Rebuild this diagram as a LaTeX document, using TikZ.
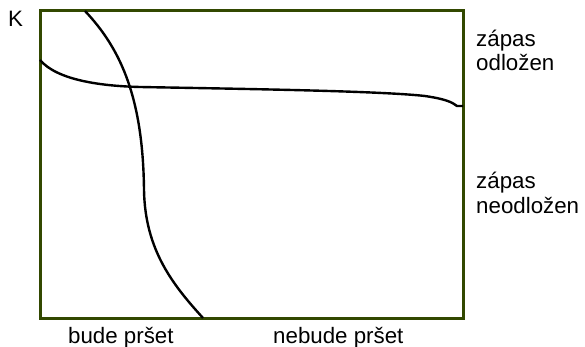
\documentclass[tikz,border=0pt]{standalone}
\usepackage{fontspec}
\setmainfont{Liberation Sans}
\definecolor{boxgreen}{RGB}{50,72,0}
\begin{document}
\begin{tikzpicture}[x=1pt,y=-1pt,
  lbl/.style={anchor=base west,inner sep=0pt,font=\fontsize{22.3}{25}\selectfont},
  frame/.style={draw=boxgreen,line width=3pt},
  curve/.style={draw=black,line width=2.4pt}]
\useasboundingbox (0,0) rectangle (585,347);
\draw[frame] (40,11) rectangle (463,318);
\coordinate (h0) at (40,60);
\coordinate (h1) at (140,87);
\coordinate (h2) at (425,96);
\coordinate (h3) at (457,106);
\coordinate (h4) at (463,106);
\draw[curve] (h0) .. controls (57,80) and (100,86) .. (h1)
  .. controls (250,89) and (380,91) .. (h2)
  .. controls (445,99) and (452,102) .. (h3) -- (h4);
\coordinate (v0) at (85,11);
\coordinate (v1) at (144,190);
\coordinate (v2) at (203,318);
\draw[curve] (v0) .. controls (122,50) and (143,100) .. (v1)
  .. controls (145,250) and (173,285) .. (v2);
\node[lbl] (K) at (8,27) {K};
\node[lbl] (z1) at (476,47) {zápas};
\node[lbl] (o1) at (476,71) {odložen};
\node[lbl] (z2) at (476,189) {zápas};
\node[lbl] (o2) at (476,213) {neodložen};
\node[lbl] (b1) at (68,343) {bude pršet};
\node[lbl] (b2) at (273,343) {nebude pršet};
\end{tikzpicture}
\end{document}
